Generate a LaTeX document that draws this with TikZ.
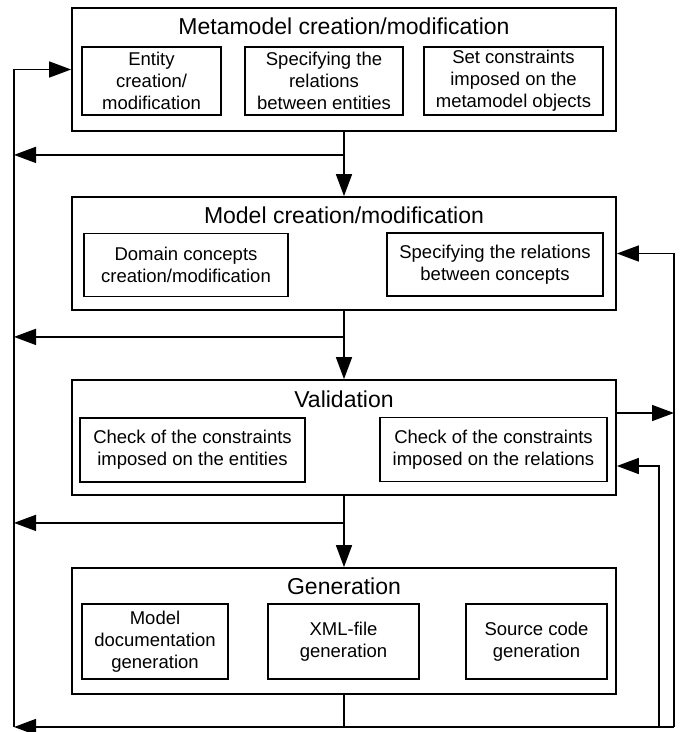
\documentclass[tikz,border=0pt]{standalone}
\usepackage{fontspec}
\setmainfont{Liberation Sans}
\usetikzlibrary{arrows.meta,positioning}
\tikzstyle{stage} = [rectangle, draw=black, line width=1.8pt, minimum width=544pt, inner sep=0pt]
\tikzstyle{task} = [rectangle, draw=black, line width=1.1pt, align=center, inner sep=0pt, font=\fontsize{18.5}{22}\selectfont]
\tikzstyle{stagetitle} = [anchor=base, inner sep=0pt, font=\fontsize{23}{27}\selectfont]
\tikzstyle{arrow} = [line width=1.6pt, -{Triangle[length=22pt,width=16pt]}]
\tikzstyle{link} = [line width=1.6pt]

\begin{document}
\begin{tikzpicture}[x=1pt, y=1pt]
\useasboundingbox (0,0) rectangle (681,-732);

% Stages
\node (meta) [stage, minimum height=123pt] at (344,-69.5) {};
\node (model) [stage, below of=meta, node distance=184pt, minimum height=113pt] {};
\node (valid) [stage, below of=model, node distance=184pt, minimum height=115pt] {};
\node (gen) [stage, below of=valid, node distance=193.5pt, minimum height=126pt] {};

\node (metatitle) [stagetitle] at ([yshift=-27.5pt]meta.north) {Metamodel creation/modification};
\node (modeltitle) [stagetitle] at ([yshift=-27.5pt]model.north) {Model creation/modification};
\node (validtitle) [stagetitle] at ([yshift=-28pt]valid.north) {Validation};
\node (gentitle) [stagetitle] at ([yshift=-27pt]gen.north) {Generation};

% Tasks
\node (entity) [task, minimum width=139pt, minimum height=68pt] at (151.5,-81) {Entity\\creation/\\modification};
\node (relent) [task, minimum width=158pt, minimum height=68pt] at (324,-81) {Specifying the\\relations\\between entities};
\node (constr) [task, minimum width=179pt, minimum height=68pt] at (513.5,-81) {Set constraints\\imposed on the\\metamodel objects};

\node (concepts) [task, minimum width=204pt, minimum height=63pt] at (186,-265) {Domain concepts\\creation/modification};
\node (relcon) [task, minimum width=216pt, minimum height=63pt] at (495,-264.5) {Specifying the relations\\between concepts};

\node (chkent) [task, minimum width=225pt, minimum height=64pt] at (192.5,-450) {Check of the constraints\\imposed on the entities};
\node (chkrel) [task, minimum width=227pt, minimum height=64pt] at (493.5,-449.5) {Check of the constraints\\imposed on the relations};

\node (docgen) [task, minimum width=146pt, minimum height=75pt] at (155,-641.5) {Model\\documentation\\generation};
\node (xmlgen) [task, minimum width=151pt, minimum height=75pt] at (343.5,-641.5) {XML-file\\generation};
\node (srcgen) [task, minimum width=141pt, minimum height=75pt] at (536.5,-641.5) {Source code\\generation};

% Loop corners
\coordinate (loopL) at (14,-727);
\coordinate (loopM) at (659,-727);
\coordinate (loopR) at (674,-727);
\coordinate (br1) at ([yshift=-23pt]meta.south);
\coordinate (br2) at ([yshift=-26pt]model.south);
\coordinate (br3) at ([yshift=-27pt]valid.south);

% Main flow
\draw[arrow] (meta) -- (model);
\draw[arrow] (model) -- (valid);
\draw[arrow] (valid) -- (gen);

% Back to the left line
\draw[arrow] (br1) -- (br1 -| loopL);
\draw[arrow] (br2) -- (br2 -| loopL);
\draw[arrow] (br3) -- (br3 -| loopL);
\draw[arrow] (gen.south) |- (loopL);
\draw[arrow] (loopL) |- (meta.west);

% Right loops
\draw[link] (gen.south) |- (loopR);
\draw[arrow] (loopR) |- (model.east);
\draw[arrow] (loopM) |- ([yshift=-28.5pt]valid.east);
\draw[arrow] ([yshift=24.5pt]valid.east) -- ([yshift=24.5pt]valid.east -| loopR);
\end{tikzpicture}
\end{document}
